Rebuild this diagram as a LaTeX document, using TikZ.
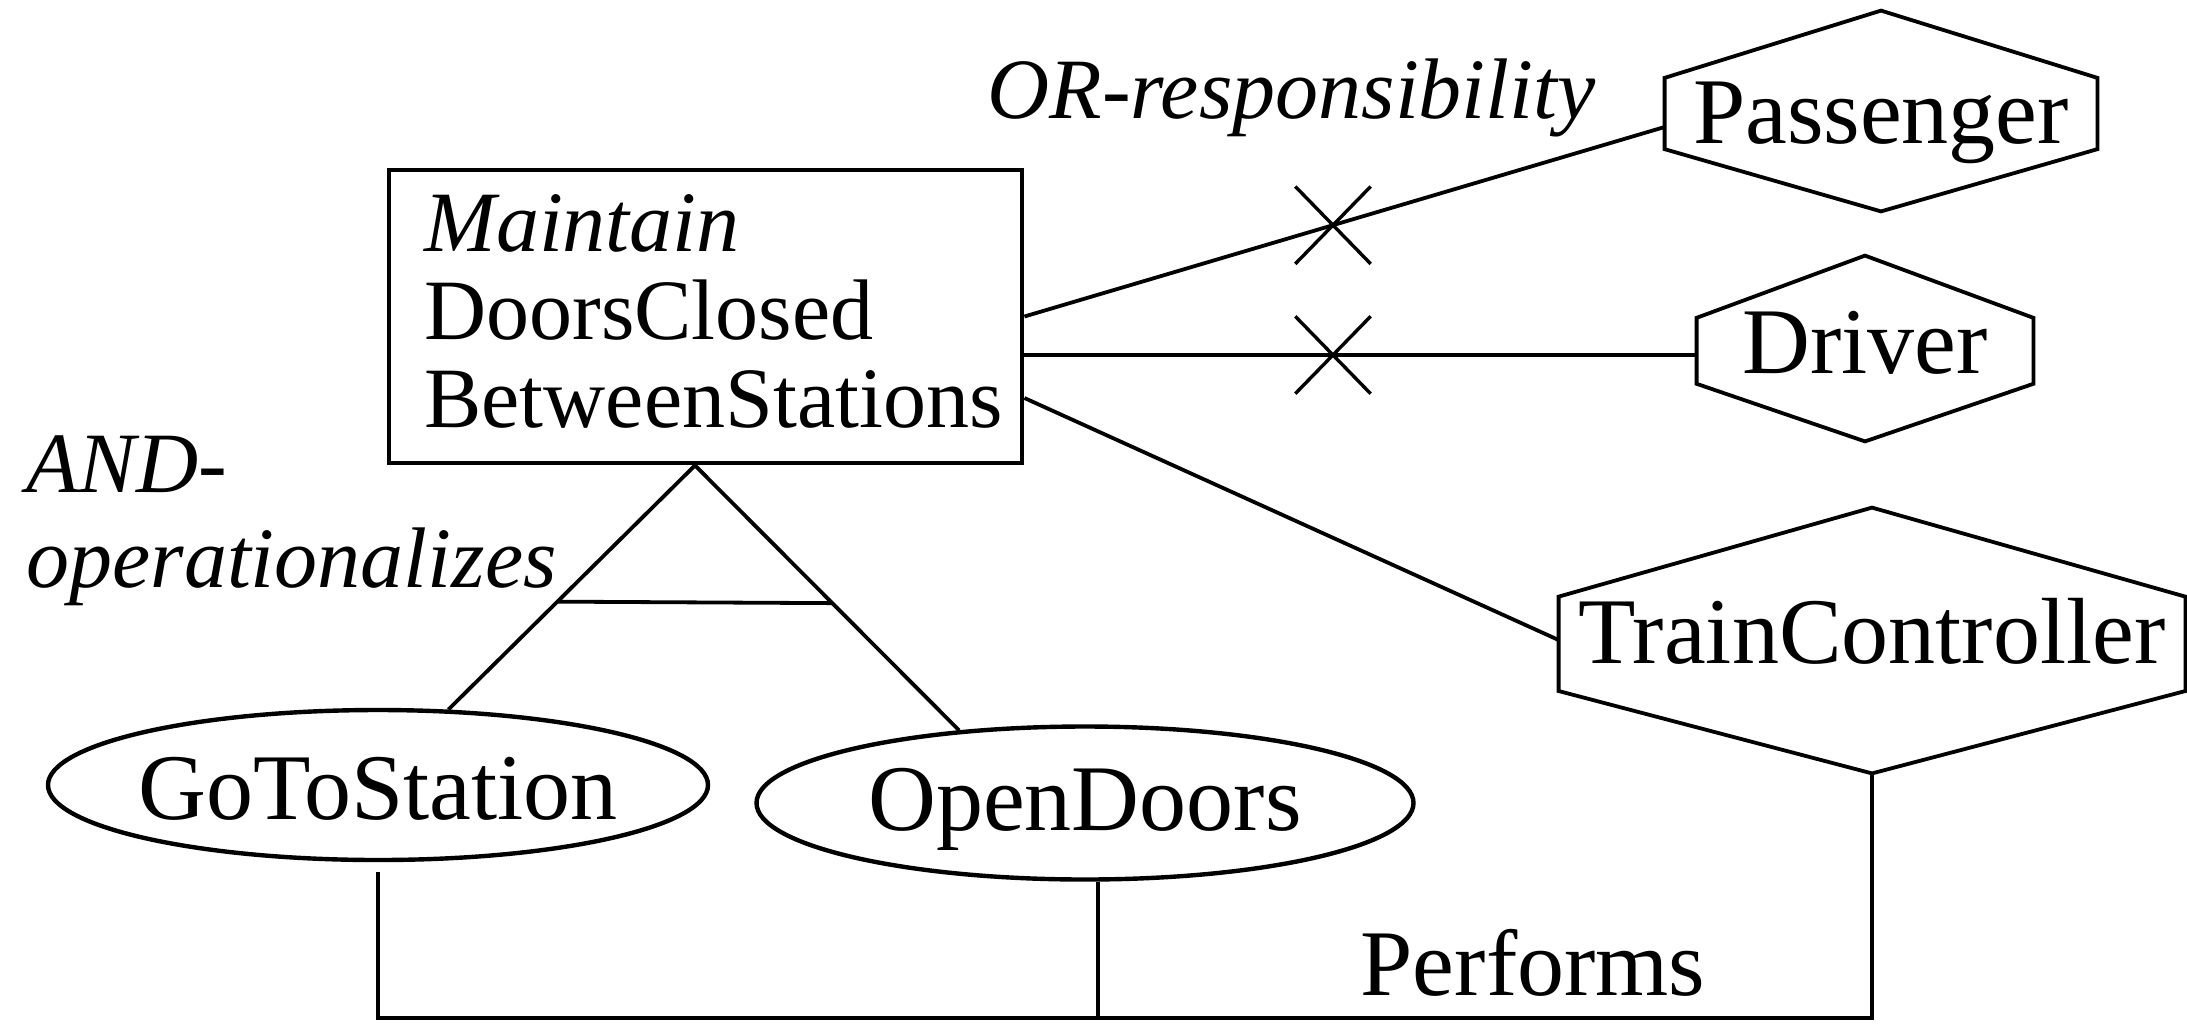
\documentclass[tikz,border=0pt]{standalone}
\usepackage{fontspec}
\setmainfont{Liberation Serif}
\usetikzlibrary{shapes.geometric,shapes.misc,calc}

\newcommand\agentfont{\fontsize{47}{50}\selectfont}
\newcommand\tagfont{\fontsize{43}{47.5}\selectfont\itshape}
\newcommand\goalfont{\fontsize{43}{44}\selectfont}

\tikzset{
  link/.style={line width=1.9pt},
  goalbox/.style={draw, rectangle, line width=2.4pt, inner sep=0pt},
  agent/.style={rectangle, inner sep=0pt, font=\agentfont, text depth=0pt},
  opnode/.style={draw, ellipse, line width=2.2pt, inner sep=0pt, font=\agentfont, text depth=0pt},
  crossmark/.style={draw, cross out, line width=1.7pt, minimum width=36pt, minimum height=37pt, inner sep=0pt},
  tag/.style={font=\tagfont, inner sep=0pt},
}

% hexagonal outline drawn round a rectangular agent node
\newcommand\hexframe[1]{%
  \draw[link] (#1.north)
    -- ($(#1.north east)!0.335!(#1.south east)$)
    -- ($(#1.north east)!0.69!(#1.south east)$)
    -- (#1.south)
    -- ($(#1.north west)!0.69!(#1.south west)$)
    -- ($(#1.north west)!0.335!(#1.south west)$)
    -- cycle;}

\begin{document}
\begin{tikzpicture}[x=0.5pt,y=-0.5pt]
  \useasboundingbox (0,0) rectangle (2187,1023);
  \fill[white] (0,0) rectangle (2187,1023);

  % goal (the base anchor of a multi-line node sits on its last line)
  \node[goalbox, minimum width=316.5pt, minimum height=146.5pt] (goal) at (705.5,316.5) {};
  \node[font=\goalfont, inner sep=0pt, anchor=base west, align=left] (goaltxt) at (424,427)
    {\textit{Maintain}\\DoorsClosed\\BetweenStations};

  % agents
  \node[agent, minimum width=216pt, minimum height=100pt, text height=32pt] (pass) at (1881,111) {Passenger};
  \node[agent, minimum width=168pt, minimum height=92.5pt, text height=24.5pt] (drv) at (1865,348.5) {Driver};
  \node[agent, minimum width=313pt, minimum height=132.5pt, text height=22.5pt] (tc) at (1872,640.5) {TrainController};
  \hexframe{pass}
  \hexframe{drv}
  \hexframe{tc}

  % operations
  \node[opnode, minimum width=330pt, minimum height=75pt, text height=34pt] (go) at (378,785) {\makebox[0pt]{GoToStation}};
  \node[opnode, minimum width=328.5pt, minimum height=76.5pt, text height=27pt] (od) at (1085,803) {\makebox[0pt]{OpenDoors}};

  % responsibility links
  \draw[link] (goal.east) -- node[crossmark, pos=0.482] (xpass) {} ([yshift=-8pt]pass.west);
  \draw[link] ([yshift=-19.25pt]goal.east) -- node[crossmark, pos=0.459] (xdrv) {} ([yshift=-3.25pt]drv.west);
  \draw[link] ([yshift=-40.75pt]goal.east) -- ([yshift=0.25pt]tc.west);
  \node[tag, anchor=base west] (ortag) at (987,118) {OR-responsibility};

  % AND-operationalization
  \coordinate (apex) at ([xshift=-5.25pt]goal.south);
  \draw[link] (apex) -- (go.47);
  \draw[link] (apex) -- (od.150);
  \draw[link] ($(apex)!0.558!(go.47)$) -- ($(apex)!0.52!(od.150)$);
  \node[tag, anchor=base west, align=left] (andtag) at (26,587) {AND-\\operationalizes};

  % performance links
  \coordinate (busy) at (0,1018);
  \path (go.south) ++(0,10) coordinate (gofoot);
  \path (od.south) ++(13,0) coordinate (odfoot);
  \draw[link] (gofoot) -- (gofoot |- busy) -- (tc.south |- busy) -- (tc.south);
  \draw[link] (odfoot) -- (odfoot |- busy);
  \node[font=\agentfont, inner sep=0pt, anchor=base] (perf) at (1533,995) {Performs};
\end{tikzpicture}
\end{document}
